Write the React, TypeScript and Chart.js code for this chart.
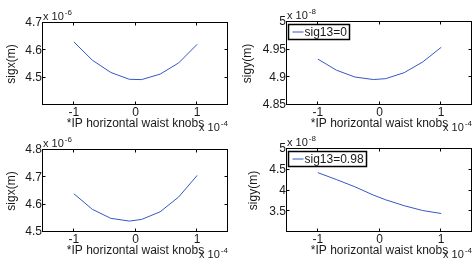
import React, { useEffect, useRef } from "react";
import { Chart, registerables } from "chart.js";
Chart.register(...registerables);

// ---- data ----
const xKnobs = [-1, -0.7, -0.4, -0.1, 0.1, 0.4, 0.7, 1];
const sigxSig0 = [4.631, 4.564, 4.519, 4.494, 4.493, 4.513, 4.554, 4.622];
const sigySig0 = [4.933, 4.913, 4.9006, 4.896, 4.8976, 4.9084, 4.9277, 4.9542];
const sigxSig98 = [4.64, 4.583, 4.55, 4.54, 4.546, 4.574, 4.628, 4.707];
const sigySig98 = [4.43, 4.264, 4.09, 3.89, 3.776, 3.634, 3.517, 3.446];

const xTickValues = [-1, 0, 1];
const yTicksSigx0 = [4.5, 4.6, 4.7];
const yTicksSigy0 = [4.85, 4.9, 4.95, 5];
const yTicksSigx98 = [4.5, 4.6, 4.7, 4.8];
const yTicksSigy98 = [3.5, 4, 4.5, 5];

const xTitle = "*IP horizontal waist knobs";
const legendSig0 = "sig13=0";
const legendSig98 = "sig13=0.98";

const FONT = "'Liberation Sans', Arial, sans-serif";
const TEXT = "#1a1a1a";
const LINE = "#3557c6";

type Panel = {
  left: number; top: number; width: number; height: number;
  aL: number; aT: number; aR: number; aB: number;
  yMin: number; yMax: number; yTicks: number[]; values: number[];
  yTitle: string; yExp: string; yTitleX: number; legend: string | null;
};

const panels: Panel[] = [
  { left: 0, top: 0, width: 236, height: 132, aL: 43, aT: 23, aR: 228, aB: 105,
    yMin: 4.4, yMax: 4.7, yTicks: yTicksSigx0, values: sigxSig0, yTitle: "sigx(m)", yExp: "-6", yTitleX: 12, legend: null },
  { left: 236, top: 0, width: 237, height: 132, aL: 287, aT: 22, aR: 472, aB: 105,
    yMin: 4.85, yMax: 5, yTicks: yTicksSigy0, values: sigySig0, yTitle: "sigy(m)", yExp: "-8", yTitleX: 12, legend: legendSig0 },
  { left: 0, top: 132, width: 236, height: 132, aL: 43, aT: 150, aR: 228, aB: 232,
    yMin: 4.5, yMax: 4.8, yTicks: yTicksSigx98, values: sigxSig98, yTitle: "sigx(m)", yExp: "-6", yTitleX: 12, legend: null },
  { left: 236, top: 132, width: 237, height: 132, aL: 287, aT: 149, aR: 472, aB: 232,
    yMin: 3, yMax: 5, yTicks: yTicksSigy98, values: sigySig98, yTitle: "sigy(m)", yExp: "-8", yTitleX: 18, legend: legendSig98 },
];

const fmt = (v: number) => String(Number(Number(v).toFixed(3)));

function makeDecor(p: Panel) {
  return {
    id: "decor",
    afterDraw(chart: any) {
      const { ctx, chartArea: a, scales } = chart;
      ctx.save();
      ctx.strokeStyle = "#000";
      ctx.lineWidth = 1;
      const L = Math.round(a.left) - 0.5, T = Math.round(a.top) - 0.5;
      const R = Math.round(a.right) - 0.5, B = Math.round(a.bottom) - 0.5;
      ctx.strokeRect(L, T, R - L, B - T);
      ctx.beginPath();
      for (const v of xTickValues) {
        const px = Math.round(scales.x.getPixelForValue(v)) - 0.5;
        ctx.moveTo(px, B); ctx.lineTo(px, B - 3);
        ctx.moveTo(px, T); ctx.lineTo(px, T + 3);
      }
      for (const v of p.yTicks) {
        const py = Math.round(scales.y.getPixelForValue(v)) - 0.5;
        ctx.moveTo(L, py); ctx.lineTo(L + 3, py);
        ctx.moveTo(R, py); ctx.lineTo(R - 3, py);
      }
      ctx.stroke();

      ctx.fillStyle = TEXT;
      // y exponent
      ctx.textAlign = "left";
      ctx.textBaseline = "alphabetic";
      ctx.font = `11px ${FONT}`;
      const ex = "x 10";
      const exW = ctx.measureText(ex).width;
      ctx.fillText(ex, a.left, a.top - 3);
      ctx.font = `8px ${FONT}`;
      ctx.fillText(p.yExp, a.left + exW + 1, a.top - 8);
      // x exponent
      ctx.font = `11px ${FONT}`;
      ctx.fillText(ex, a.right - 29, a.bottom + 26);
      ctx.font = `8px ${FONT}`;
      ctx.fillText("-4", a.right - 29 + exW + 1, a.bottom + 21);
      // x title
      ctx.font = `12px ${FONT}`;
      ctx.textAlign = "center";
      ctx.fillText(xTitle, (a.left + a.right) / 2, a.bottom + 22);
      // y title
      ctx.save();
      ctx.translate(p.yTitleX, (a.top + a.bottom) / 2);
      ctx.rotate(-Math.PI / 2);
      ctx.textBaseline = "middle";
      ctx.fillText(p.yTitle, 0, 0);
      ctx.restore();
      // legend
      if (p.legend) {
        ctx.font = `12px ${FONT}`;
        const tw = ctx.measureText(p.legend).width;
        const bx = Math.round(a.left) + 1.5, by = Math.round(a.top) + 2.5;
        const bw = Math.round(tw + 19), bh = 15;
        ctx.fillStyle = "#fff";
        ctx.fillRect(bx, by, bw, bh);
        ctx.strokeStyle = "#000";
        ctx.lineWidth = 1.5;
        ctx.strokeRect(bx, by, bw, bh);
        ctx.strokeStyle = LINE;
        ctx.lineWidth = 1;
        ctx.beginPath();
        ctx.moveTo(bx + 4, by + 7.5);
        ctx.lineTo(bx + 15, by + 7.5);
        ctx.stroke();
        ctx.fillStyle = TEXT;
        ctx.textAlign = "left";
        ctx.textBaseline = "middle";
        ctx.fillText(p.legend, bx + 16, by + 8);
      }
      ctx.restore();
    },
  };
}

function PanelChart({ p }: { p: Panel }) {
  const ref = useRef<HTMLCanvasElement>(null);
  useEffect(() => {
    if (!ref.current) return;
    const relT = p.aT - p.top, relB = p.aB - p.top, relL = p.aL - p.left, relR = p.aR - p.left;
    const chart = new Chart(ref.current, {
      type: "line",
      data: {
        datasets: [{
          data: xKnobs.map((x, i) => ({ x, y: p.values[i] })),
          borderColor: LINE, borderWidth: 1, pointRadius: 0, tension: 0, fill: false,
        }],
      },
      options: {
        responsive: false,
        animation: false,
        devicePixelRatio: 1,
        layout: { padding: { left: 0, top: relT, right: p.width - relR, bottom: 0 } },
        plugins: { legend: { display: false }, tooltip: { enabled: false } },
        scales: {
          x: {
            type: "linear", min: -1.5, max: 1.5,
            grid: { display: false, drawTicks: false }, border: { display: false },
            afterBuildTicks: (s: any) => { s.ticks = xTickValues.map((v) => ({ value: v })); },
            afterFit: (s: any) => { s.height = p.height - relB; },
            ticks: { padding: 0, autoSkip: false, maxRotation: 0, color: TEXT, font: { family: FONT, size: 12 }, callback: (v: any) => fmt(v) },
          },
          y: {
            type: "linear", min: p.yMin, max: p.yMax,
            grid: { display: false, drawTicks: false }, border: { display: false },
            afterBuildTicks: (s: any) => { s.ticks = p.yTicks.map((v) => ({ value: v })); },
            afterFit: (s: any) => { s.width = relL; },
            ticks: { padding: 1, autoSkip: false, color: TEXT, font: { family: FONT, size: 12 }, callback: (v: any) => fmt(v) },
          },
        },
      } as any,
      plugins: [makeDecor(p)],
    });
    return () => chart.destroy();
  }, [p]);
  return (
    <canvas
      ref={ref}
      width={p.width}
      height={p.height}
      style={{ position: "absolute", left: p.left, top: p.top, width: p.width, height: p.height, display: "block" }}
    />
  );
}

export default function App() {
  return (
    <div style={{ position: "fixed", left: 0, top: 0, width: 473, height: 264, background: "#fff", overflow: "hidden" }}>
      {panels.map((p, i) => <PanelChart key={i} p={p} />)}
    </div>
  );
}
